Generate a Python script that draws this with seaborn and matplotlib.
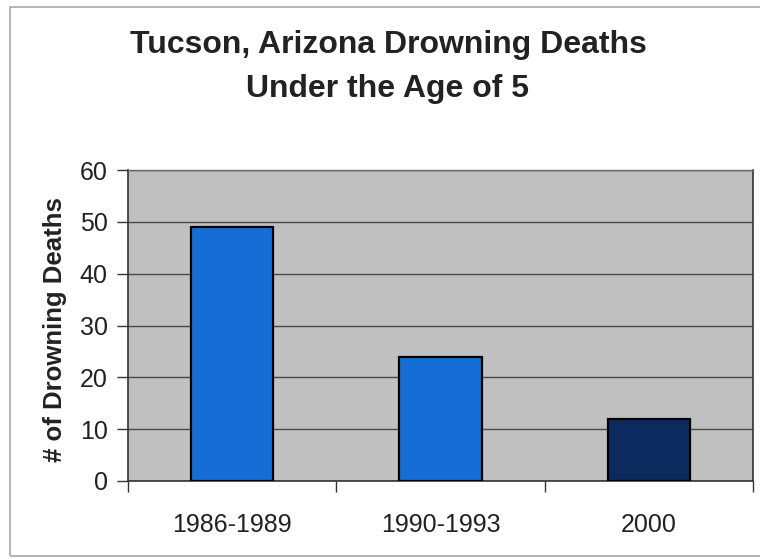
import matplotlib
matplotlib.use("Agg")
import matplotlib.pyplot as plt
import matplotlib.patches as mpatches
from matplotlib.ticker import FixedLocator
import seaborn as sns
import pandas as pd

# Drowning deaths of children under 5 in Tucson, by period
periods = ["1986-1989", "1990-1993", "2000"]
deaths = [49, 24, 12]
bar_colors = ["#176dd6", "#176dd6", "#0d2a5e"]
y_ticks = [0, 10, 20, 30, 40, 50, 60]

sns.set_theme(style="white")
plt.rcParams["font.family"] = ["Liberation Sans", "DejaVu Sans"]

df = pd.DataFrame({"period": periods, "deaths": deaths})

fig = plt.figure(figsize=(7.6, 5.59), dpi=100)
fig.patch.set_facecolor("white")
ax = fig.add_axes([128 / 760, 1 - 481 / 559, 625 / 760, 311 / 559])
ax.set_facecolor("#c0c0c0")

sns.barplot(data=df, x="period", y="deaths", hue="period", palette=bar_colors,
            order=periods, hue_order=periods, dodge=False, legend=False,
            width=0.395, edgecolor="black", linewidth=1.6, saturation=1, ax=ax,
            zorder=3)

ax.set_xlim(-0.5, 2.5)
ax.set_ylim(0, 60)
ax.set_yticks(y_ticks)
ax.yaxis.grid(True, color="#4a4a4a", linewidth=1.0, zorder=1)
ax.set_axisbelow(True)

# Category boundaries carry the x tick marks, labels sit at the centers
ax.xaxis.set_minor_locator(FixedLocator([-0.5, 0.5, 1.5, 2.5]))
ax.tick_params(axis="x", which="major", length=0, pad=23, labelsize=18,
               labelcolor="#222222")
ax.tick_params(axis="x", which="minor", length=8, width=1, color="#333333",
               direction="out", bottom=True)
ax.tick_params(axis="y", length=8, width=1, color="#333333", direction="out",
               left=True, pad=6.5, labelsize=18, labelcolor="#222222")

for side in ["left", "bottom", "right"]:
    ax.spines[side].set_visible(True)
    ax.spines[side].set_color("#333333")
    ax.spines[side].set_linewidth(1.2)
ax.spines["top"].set_color("#6a6a6a")
ax.spines["top"].set_linewidth(1.0)

ax.set_xlabel("")
ax.set_ylabel("# of Drowning Deaths", fontsize=18.5, fontweight="bold",
              color="#222222")
ax.yaxis.set_label_coords(-0.097, 0.487)

fig.text(388 / 760, 1 - 45 / 559, "Tucson, Arizona Drowning Deaths",
         ha="center", va="center", fontsize=23, fontweight="bold",
         color="#222222")
fig.text(388 / 760, 1 - 89 / 559, "Under the Age of 5",
         ha="center", va="center", fontsize=23, fontweight="bold",
         color="#222222")

# Chart area border
fig.patches.append(mpatches.Rectangle((10 / 760, 3 / 559), 1.0, 549 / 559,
                                      transform=fig.transFigure, fill=False,
                                      edgecolor="#a8a8a8", linewidth=1.2))

fig.savefig("out.png", dpi=100)
